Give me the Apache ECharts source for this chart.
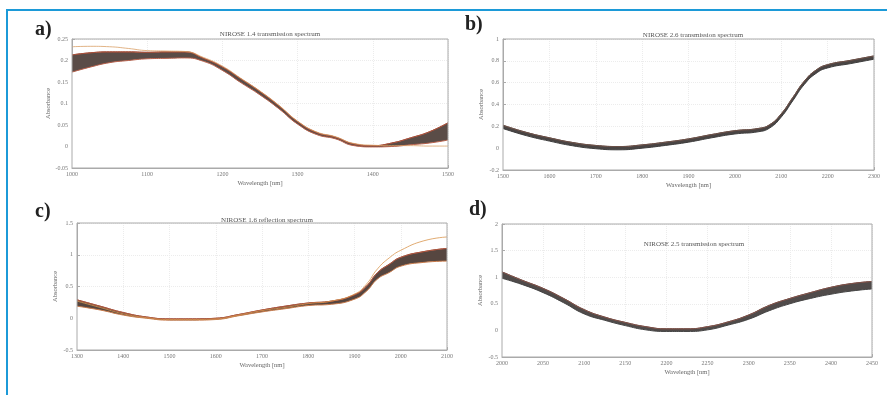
<!DOCTYPE html>
<html>
<head>
<meta charset="utf-8">
<script src="https://cdn.jsdelivr.net/npm/echarts@6/dist/echarts.min.js"></script>
<style>
html,body{margin:0;padding:0;background:#fff;}
#chart{width:887px;height:395px;}
</style>
</head>
<body>
<div id="chart"></div>
<script>
// panel a) NIROSE 1.4 transmission
var aWl = [1000,1025,1050,1075,1100,1125,1150,1175,1200,1225,1250,1275,1300,1325,1350,1375,1400,1425,1450,1475,1500];
var aUpper = [0.213,0.218,0.220,0.220,0.219,0.220,0.220,0.205,0.185,0.157,0.128,0.095,0.058,0.033,0.022,0.006,0.002,0.008,0.020,0.034,0.055];
var aLower = [0.173,0.185,0.195,0.200,0.204,0.205,0.206,0.198,0.177,0.148,0.120,0.088,0.052,0.028,0.018,0.002,-0.001,0.000,0.004,0.008,0.015];
var aOdd = [0.232,0.233,0.232,0.228,0.223,0.222,0.221,0.207,0.187,0.158,0.129,0.096,0.059,0.034,0.023,0.007,0.003,0.002,0.002,0.001,0.001];
var aTicksX = [1000,1500,100];
var aTicksY = [-0.05,0.25,0.05];

// panel b) NIROSE 2.6 transmission
var bWl = [1500,1550,1600,1650,1700,1750,1800,1850,1900,1950,2000,2050,2075,2100,2125,2150,2175,2200,2250,2300];
var bUpper = [0.21,0.145,0.095,0.052,0.025,0.015,0.03,0.055,0.085,0.125,0.16,0.18,0.215,0.315,0.465,0.615,0.715,0.765,0.805,0.845];
var bLower = [0.18,0.115,0.065,0.022,-0.005,-0.015,0.0,0.025,0.055,0.095,0.13,0.15,0.185,0.285,0.435,0.585,0.685,0.735,0.775,0.815];
var bTicksX = [1500,2300,100];
var bTicksY = [-0.2,1,0.2];

// panel c) NIROSE 1.6 reflection
var cWl = [1300,1350,1400,1450,1500,1550,1600,1650,1700,1750,1800,1850,1900,1925,1950,1975,2000,2050,2100];
var cUpper = [0.29,0.19,0.09,0.02,-0.01,-0.01,0.0,0.06,0.13,0.19,0.24,0.27,0.37,0.5,0.72,0.85,0.96,1.05,1.1];
var cLower = [0.19,0.13,0.05,0.0,-0.03,-0.03,-0.02,0.04,0.1,0.15,0.2,0.22,0.3,0.42,0.62,0.72,0.82,0.88,0.9];
var cOdd = [0.27,0.17,0.07,0.01,-0.02,-0.02,-0.01,0.05,0.12,0.17,0.23,0.27,0.38,0.53,0.78,0.95,1.07,1.22,1.28];
var cTicksX = [1300,2100,100];
var cTicksY = [-0.5,1.5,0.5];

// panel d) NIROSE 2.5 transmission
var dWl = [2000,2025,2050,2075,2100,2125,2150,2175,2200,2225,2250,2275,2300,2325,2350,2375,2400,2425,2450];
var dUpper = [1.1,0.94,0.79,0.6,0.39,0.25,0.15,0.07,0.03,0.03,0.07,0.16,0.29,0.47,0.6,0.71,0.81,0.88,0.92];
var dLower = [0.98,0.86,0.71,0.52,0.31,0.19,0.09,0.01,-0.02,-0.02,0.01,0.1,0.21,0.37,0.5,0.6,0.68,0.74,0.78];
var dTicksX = [2000,2450,50];
var dTicksY = [-0.5,2,0.5];

var panelTitles = ['NIROSE 1.4 transmission spectrum','NIROSE 2.6 transmission spectrum','NIROSE 1.6 reflection spectrum','NIROSE 2.5 transmission spectrum'];
var panelTags = ['a)','b)','c)','d)'];

var grids = [
	{left:72, top:39, width:376, height:129},
	{left:503, top:39, width:371, height:131},
	{left:77, top:223, width:370, height:127},
	{left:502, top:224, width:370, height:133}
];
for(var k=0;k<grids.length;k++){
	grids[k].show = true;
	grids[k].z = 10;
	grids[k].backgroundColor = 'transparent';
	grids[k].borderColor = '#aaa';
	grids[k].borderWidth = 1;
}

function pairs(xs, ys){
	var out = [];
	for(var i=0;i<xs.length;i++){ out.push([xs[i], ys[i]]); }
	return out;
}

var xAxes = [], yAxes = [], series = [];
var ticksX = [aTicksX,bTicksX,cTicksX,dTicksX];
var ticksY = [aTicksY,bTicksY,cTicksY,dTicksY];
for(var i=0;i<4;i++){
	xAxes.push({
		type:'value', gridIndex:i, min:ticksX[i][0], max:ticksX[i][1], interval:ticksX[i][2],
		name:'Wavelength [nm]', nameLocation:'middle', nameGap:12,
		nameTextStyle:{color:'#666', fontSize:6.5, fontFamily:'Liberation Serif'},
		axisLine:{onZero:false, lineStyle:{color:'#aaa', width:1}},
		axisTick:{inside:true, length:3, lineStyle:{color:'#aaa'}},
		axisLabel:{color:'#777', fontSize:6, fontFamily:'Liberation Serif', margin:3,
			formatter:function(v){ return String(v); }},
		splitLine:{show:true, lineStyle:{color:'#ececec', type:'dotted'}}
	});
	yAxes.push({
		type:'value', gridIndex:i, min:ticksY[i][0], max:ticksY[i][1], interval:ticksY[i][2],
		name:'Absorbance', nameLocation:'middle', nameGap:18, nameRotate:90,
		nameTextStyle:{color:'#666', fontSize:6.5, fontFamily:'Liberation Serif'},
		axisLine:{show:true, onZero:false, lineStyle:{color:'#aaa', width:1}},
		axisTick:{show:true, inside:true, length:3, lineStyle:{color:'#aaa'}},
		axisLabel:{color:'#777', fontSize:6, fontFamily:'Liberation Serif', margin:4},
		splitLine:{show:true, lineStyle:{color:'#ececec', type:'dotted'}}
	});
}

// band = dark fill under the upper edge, then white fill under the lower edge
function band(idx, xs, up, lo, fill, upColor, loColor){
	series.push({
		type:'line', xAxisIndex:idx, yAxisIndex:idx, symbol:'none', smooth:true, silent:true,
		lineStyle:{width:1, color:upColor}, areaStyle:{color:fill, opacity:1, origin:'start'},
		data:pairs(xs, up)
	});
	series.push({
		type:'line', xAxisIndex:idx, yAxisIndex:idx, symbol:'none', smooth:true, silent:true,
		lineStyle:{width:1, color:loColor}, areaStyle:{color:'#fff', opacity:1, origin:'start'},
		data:pairs(xs, lo)
	});
	series.push({
		type:'line', xAxisIndex:idx, yAxisIndex:idx, symbol:'none', smooth:true, silent:true,
		lineStyle:{width:1, color:upColor}, data:pairs(xs, up)
	});
}

band(0, aWl, aUpper, aLower, '#5a4c47', '#a5503b', '#b8604a');
series.push({type:'line', xAxisIndex:0, yAxisIndex:0, symbol:'none', smooth:true, silent:true,
	lineStyle:{width:0.8, color:'#d9a066'}, data:pairs(aWl, aOdd)});
band(1, bWl, bUpper, bLower, '#4a4544', '#6a5048', '#3e3e3e');
band(2, cWl, cUpper, cLower, '#564640', '#a9553f', '#c87a4a');
series.push({type:'line', xAxisIndex:2, yAxisIndex:2, symbol:'none', smooth:true, silent:true,
	lineStyle:{width:0.8, color:'#d9964e'}, data:pairs(cWl, cOdd)});
band(3, dWl, dUpper, dLower, '#504b4a', '#7a5048', '#444');

var titles = [
	{text:panelTitles[0], left:265, top:26},
	{text:panelTitles[1], left:688, top:27},
	{text:panelTitles[2], left:262, top:212},
	{text:panelTitles[3], left:689, top:236}
];
for(var t=0;t<titles.length;t++){
	titles[t].textAlign = 'center';
	titles[t].textStyle = {color:'#555', fontSize:7, fontWeight:'normal', fontFamily:'Liberation Serif'};
}
var tagPos = [[35,20],[465,15],[35,202],[469,200]];
var graphics = [{
	type:'rect', shape:{x:7, y:10, width:900, height:400}, silent:true,
	style:{fill:null, stroke:'#1c9ad8', lineWidth:2}
}];
for(var g=0;g<4;g++){
	graphics.push({
		type:'text', left:tagPos[g][0], top:tagPos[g][1], silent:true,
		style:{text:panelTags[g], fill:'#222', font:'bold 20px "Liberation Serif"'}
	});
}

var myChart = echarts.init(document.getElementById('chart'), null, {renderer:'canvas'});
var option = {
	animation:false,
	backgroundColor:'#fff',
	title:titles,
	grid:grids,
	xAxis:xAxes,
	yAxis:yAxes,
	series:series,
	graphic:graphics
};
myChart.setOption(option);
</script>
</body>
</html>
